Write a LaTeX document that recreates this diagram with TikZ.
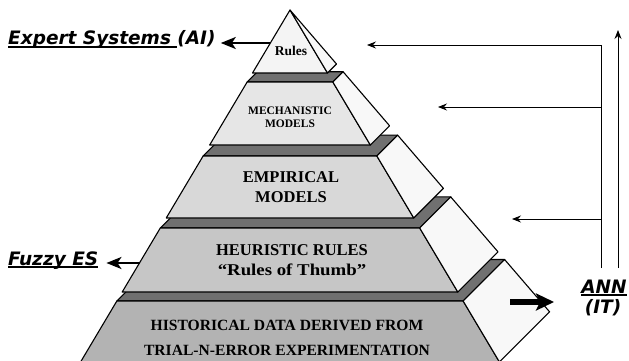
\documentclass[tikz,border=0pt]{standalone}
\usepackage{fontspec}
\usepackage{tikz}
\usetikzlibrary{arrows.meta,positioning,calc}
\newfontfamily\sidefont{DejaVu Sans}
\newfontfamily\pyrfont{Liberation Serif}
\newcommand{\thickul}[1]{\setbox0\hbox{#1}\rlap{\rule[-2.8pt]{\wd0}{1.7pt}}\box0}
\definecolor{gA}{HTML}{F4F4F4}
\definecolor{gB}{HTML}{E6E6E6}
\definecolor{gC}{HTML}{D8D8D8}
\definecolor{gD}{HTML}{C6C6C6}
\definecolor{gE}{HTML}{B3B3B3}
\definecolor{gSide}{HTML}{F8F8F8}
\definecolor{gBand}{HTML}{707070}
\tikzset{
  face/.style={draw,fill=#1,line width=1.1pt,line join=round},
  lvl/.style 2 args={font=\pyrfont\bfseries\fontsize{#1}{#2}\selectfont,align=center,inner sep=0pt},
  tag/.style={font=\sidefont\bfseries\itshape\fontsize{18.5}{20}\selectfont,inner sep=0pt},
  feed/.style={-{Stealth[length=9pt,width=7pt,inset=3pt]},line width=0.8pt},
  pull/.style={-{Stealth[length=15pt,width=12pt,inset=4pt]},line width=2.4pt},
  push/.style={-{Stealth[length=18pt,width=17pt,inset=4pt]},line width=6pt}
}

\begin{document}
\begin{tikzpicture}[x=1pt,y=-1pt]
    \useasboundingbox (0,0) rectangle (629,361);
    \clip (0,0) rectangle (629,361);

    % Layers, bottom up: top face, front face, side face
    \foreach \t/\b/\fc in {301/362/gE, 228/292/gD, 156/218/gC, 82/145/gB}{
      \pgfmathsetmacro\Lt{290-0.595*(\t-10)}
      \pgfmathsetmacro\Rt{290+0.595*(\t-10)}
      \pgfmathsetmacro\St{0.1425*(\t-10)}
      \pgfmathsetmacro\Lb{290-0.595*(\b-10)}
      \pgfmathsetmacro\Rb{290+0.595*(\b-10)}
      \pgfmathsetmacro\Sb{0.1425*(\b-10)}
      \draw[face=gBand] (\Lt,\t) -- ({\Lt+\St},{\t-\St}) -- ({\Rt+\St},{\t-\St}) -- (\Rt,\t) -- cycle;
      \draw[face=\fc] (\Lt,\t) -- (\Rt,\t) -- (\Rb,\b) -- (\Lb,\b) -- cycle;
      \draw[face=gSide] (\Rt,\t) -- ({\Rt+\St},{\t-\St}) -- ({\Rb+\Sb},{\b-\Sb}) -- (\Rb,\b) -- cycle;
    }
    \draw[face=gA] (290,10) -- (327.5,73) -- (252.5,73) -- cycle;
    \draw[face=gSide] (290,10) -- (336.5,64) -- (327.5,73) -- cycle;

    % Nodes
    \node[lvl={13.5}{15}] (rules) at (291,51) {Rules};
    \node[lvl={11.5}{12.5}] (mech) at (290,117) {MECHANISTIC\\MODELS};
    \node[lvl={16.5}{20}] (emp) at (291,187) {EMPIRICAL\\MODELS};
    \node[lvl={16.5}{20}] (heur) at (292,260) {HEURISTIC RULES\\{\addfontfeature{FakeStretch=1.14}“Rules of Thumb”}};
    \node[lvl={15.6}{25}] (hist) at (287,337.5) {HISTORICAL DATA DERIVED FROM\\TRIAL-N-ERROR EXPERIMENTATION};

    \node[tag,anchor=base west] (es) at (8,45) {\thickul{Expert Systems\ }(AI)};
    \node[tag,anchor=base west] (fuzzy) at (8,265) {\thickul{Fuzzy ES}};
    \node[tag,anchor=base] (ann) at (604,293) {\thickul{ANN}};
    \node[tag,anchor=base] (it) at (603,313) {(IT)};

    \coordinate (rulesL) at (270,43);
    \coordinate (heurL) at (140,263);
    \coordinate (busTop) at (601,45);
    \coordinate (busM) at (601,107);
    \coordinate (busE) at (601,219);
    \coordinate (busBot) at (601,268);
    \coordinate (aimR) at (367,45);
    \coordinate (aimM) at (438,107);
    \coordinate (aimE) at (512,219);
    \coordinate (upBot) at (618,268);
    \coordinate (upTop) at (618,30);
    \coordinate (annFrom) at (510,302);
    \coordinate (annTip) at (554,302);

    % Paths
    \draw[pull] (rulesL) -- ($(rulesL -| es.east)+(5,0)$);
    \draw[pull] (heurL) -- ($(heurL -| fuzzy.east)+(8,0)$);
    \draw[feed] (busBot) -- (busTop) -- (aimR);
    \draw[feed] (busM) -- (aimM);
    \draw[feed] (busE) -- (aimE);
    \draw[feed] (upBot) -- (upTop);
    \draw[push] (annFrom) -- (annTip);
\end{tikzpicture}
\end{document}
